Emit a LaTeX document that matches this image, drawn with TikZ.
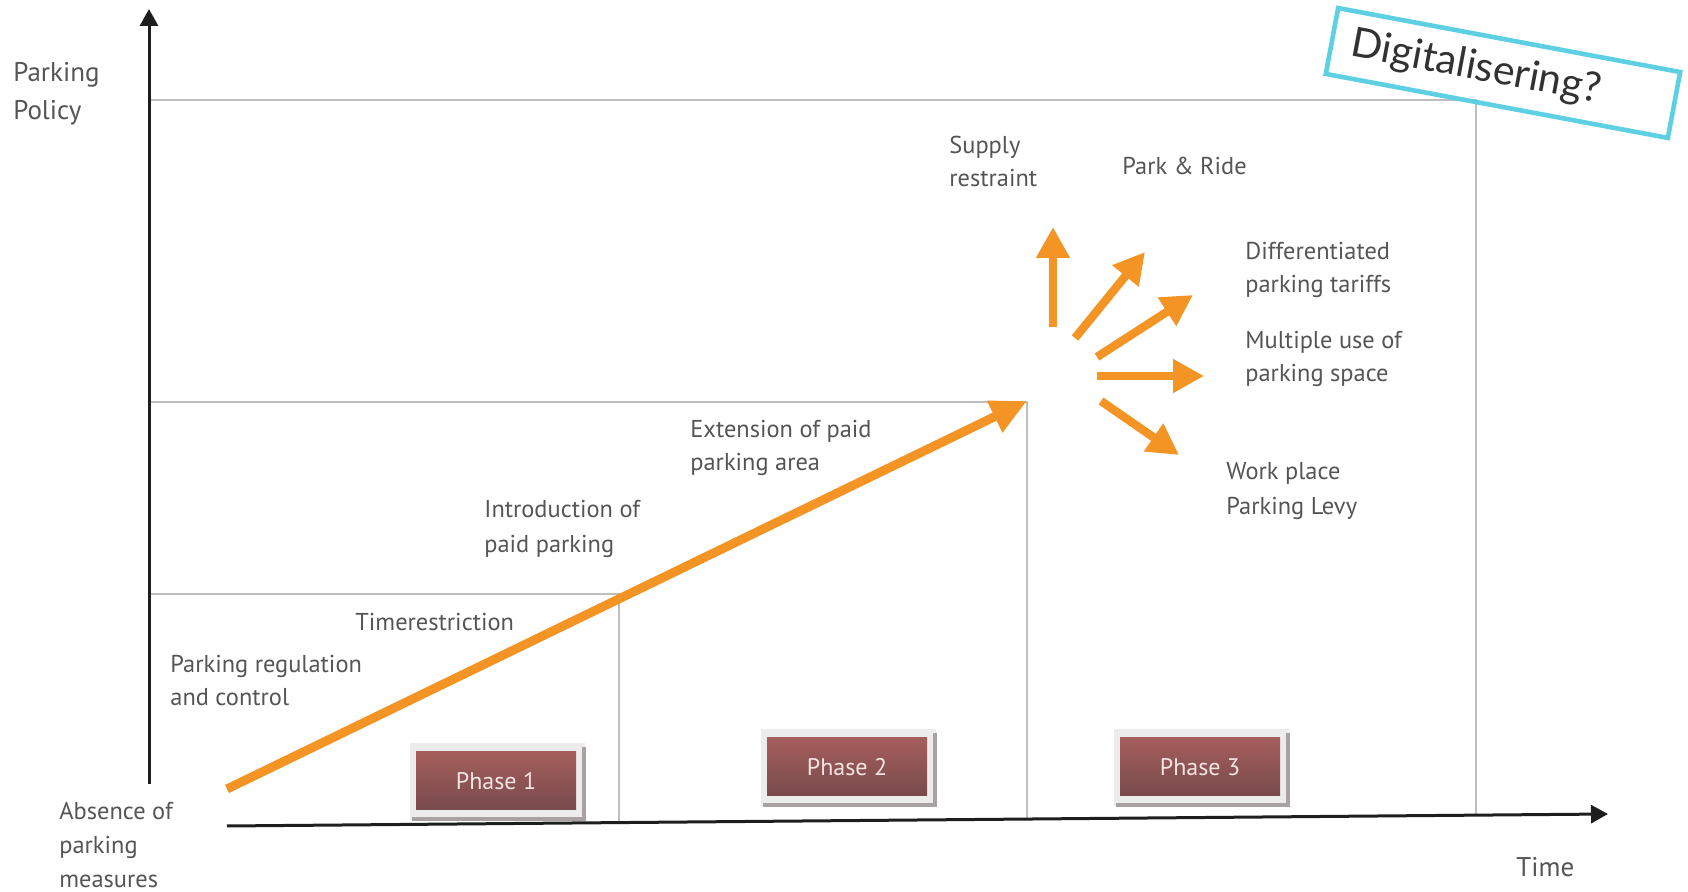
\documentclass[tikz,border=0pt]{standalone}
\usepackage{fontspec}
\setmainfont{PT Sans}
\newfontfamily\digifont{Lato}
\usetikzlibrary{arrows.meta,calc,backgrounds}
\definecolor{orng}{RGB}{244,148,36}
\definecolor{lblgray}{RGB}{85,85,85}
\definecolor{gridgray}{RGB}{190,190,190}
\definecolor{axisblack}{RGB}{30,30,30}
\definecolor{cyanbox}{RGB}{93,208,227}
\definecolor{digitext}{RGB}{50,50,50}
\definecolor{phasetop}{RGB}{165,94,92}
\definecolor{phasebot}{RGB}{120,74,76}
\definecolor{phasetext}{RGB}{245,228,226}
\definecolor{framegray}{RGB}{236,236,236}
\definecolor{shadowgray}{RGB}{168,162,162}
\tikzset{
  lbl/.style={anchor=west, align=left, inner sep=0pt, text=lblgray, font=\fontsize{12.2}{16.5}\selectfont},
  biglbl/.style={anchor=west, align=left, inner sep=0pt, text=lblgray, font=\fontsize{13.5}{19}\selectfont},
  gridline/.style={draw=gridgray, line width=1pt},
  axisline/.style={draw=axisblack, line width=1.5pt, -{Triangle[length=8.5pt,width=9pt]}},
  fanarrow/.style={draw=orng, line width=4.2pt, -{Triangle[length=15.5pt,width=16pt]}},
  mainarrow/.style={draw=orng, line width=4.5pt, -{Triangle[length=18pt,width=16.5pt]}},
  phasebox/.style={minimum width=80pt, minimum height=29pt, inner sep=0pt, top color=phasetop, bottom color=phasebot, text=phasetext, font=\fontsize{12}{14}\selectfont},
  phaseframe/.style={fill=framegray},
  phaseshadow/.style={draw=shadowgray, line width=2pt},
  digibox/.style={draw=cyanbox, line width=2.3pt, rotate=-10.6, minimum height=33.5pt, text width=154pt, inner xsep=10pt, align=left, text=digitext, font=\digifont\fontsize{20.5}{22}\selectfont}
}
\begin{document}
\begin{tikzpicture}[x=0.5pt,y=-0.5pt]
\useasboundingbox (0,0) rectangle (1688,892);

% axes coordinates
\coordinate (ybot) at (149,784);
\coordinate (ytop) at (149,9);
\coordinate (xstart) at (227,826);
\coordinate (xend) at (1608,814);

% grid lines
\coordinate (t1) at (149,100);
\coordinate (t2) at (1476,100);
\coordinate (t3) at (1476,816);
\coordinate (m1) at (149,402);
\coordinate (m2) at (1027,402);
\coordinate (m3) at (1027,820);
\coordinate (l1) at (149,594);
\coordinate (l2) at (619,594);
\coordinate (l3) at (619,823);
\draw[gridline] (t1) -- (t2) -- (t3);
\draw[gridline] (m1) -- (m2) -- (m3);
\draw[gridline] (l1) -- (l2) -- (l3);

% phase boxes
\node[phasebox] (p1) at (496,781) {Phase 1};
\node[phasebox] (p2) at (847,767) {Phase 2};
\node[phasebox] (p3) at (1200,767) {Phase 3};
\begin{scope}[on background layer]
\fill[white] (0,0) rectangle (1688,892);
\foreach \p in {p1,p2,p3}{
  \fill[phaseframe] ($(\p.north west)+(-6,-9)$) rectangle ($(\p.south east)+(9,10)$);
  \draw[phaseshadow] ($(\p.north east)+(8,-5)$) -- ($(\p.south east)+(8,9)$) -- ($(\p.south west)+(-4,9)$);
}
\end{scope}

% axes
\draw[axisline] (ybot) -- (ytop);
\draw[axisline] (xstart) -- (xend);

% main orange arrow
\coordinate (a0) at (227,789);
\coordinate (a1) at (1027,401);
\draw[mainarrow] (a0) -- (a1);

% fan arrows
\coordinate (f1s) at (1053,327);
\coordinate (f1e) at (1053,227);
\coordinate (f2s) at (1075,338);
\coordinate (f2e) at (1145,252);
\coordinate (f3s) at (1097,357);
\coordinate (f3e) at (1193,295);
\coordinate (f4s) at (1097,376);
\coordinate (f4e) at (1204,376);
\coordinate (f5s) at (1101,401);
\coordinate (f5e) at (1179,455);
\draw[fanarrow] (f1s) -- (f1e);
\draw[fanarrow] (f2s) -- (f2e);
\draw[fanarrow] (f3s) -- (f3e);
\draw[fanarrow] (f4s) -- (f4e);
\draw[fanarrow] (f5s) -- (f5e);

% labels
\node[biglbl] (pp) at (13,94) {Parking\\Policy};
\node[biglbl] (time) at (1516,867) {Time};
\node[lbl] (sr) at (949,161) {Supply\\restraint};
\node[lbl] (pr) at (1122,166) {Park \& Ride};
\node[lbl] (dt) at (1245,270) {Differentiated\\parking tariffs};
\node[lbl] (mu) at (1245,359) {Multiple use of\\parking space};
\node[lbl, font=\fontsize{12.2}{17.5}\selectfont] (wp) at (1226,491) {Work place\\Parking Levy};
\node[lbl] (ep) at (690,448) {Extension of paid\\parking area};
\node[lbl, font=\fontsize{12.2}{17.5}\selectfont] (ip) at (484,529) {Introduction of\\paid parking};
\node[lbl] (tr) at (355,622) {Timerestriction};
\node[lbl] (rc) at (170,681) {Parking regulation\\and control};
\node[lbl, font=\fontsize{12.2}{17}\selectfont] (ab) at (59,845) {Absence of\\parking\\measures};

% Digitalisering box
\node[digibox] (digi) at (1503,73) {Digitalisering?};
\end{tikzpicture}
\end{document}
